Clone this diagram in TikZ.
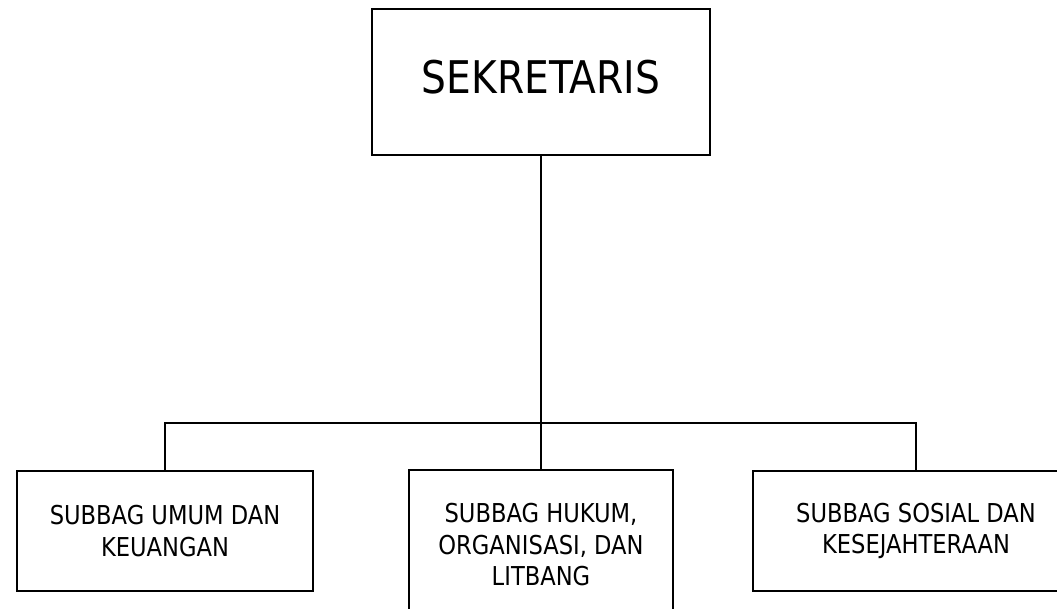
\documentclass[tikz,border=0pt]{standalone}
\usepackage{fontspec}
\setmainfont[FakeStretch=0.87]{DejaVu Sans}
\usetikzlibrary{positioning}

\begin{document}
\begin{tikzpicture}[x=1pt,y=1pt,line width=1.8pt,
  unit/.style={draw,rectangle,align=center,inner sep=0pt,
    font=\fontsize{26}{31.5}\selectfont}]
\useasboundingbox (0,0) rectangle (1057,609);
\clip (0,0) rectangle (1057,609);

\node [unit,minimum width=338,minimum height=146,text depth=10pt,
  font=\fontsize{45}{50}\selectfont] (sek) at (541,527) {SEKRETARIS};

\node [unit,minimum width=296,minimum height=120] (umum) at (165,78)
  {SUBBAG UMUM DAN\\KEUANGAN};
\node [unit,minimum width=264,minimum height=150] (hukum) at (541,64)
  {SUBBAG HUKUM,\\ORGANISASI, DAN\\LITBANG};
\node [unit,minimum width=326,minimum height=120] (sosial) at (916,78)
  {SUBBAG SOSIAL DAN\\KESEJAHTERAAN};

\coordinate (jn) at (541,186);

\draw (sek.south) -- (jn);
\draw (umum.north) |- (jn) -| (sosial.north);
\draw (jn) -- (hukum.north);

\end{tikzpicture}
\end{document}
